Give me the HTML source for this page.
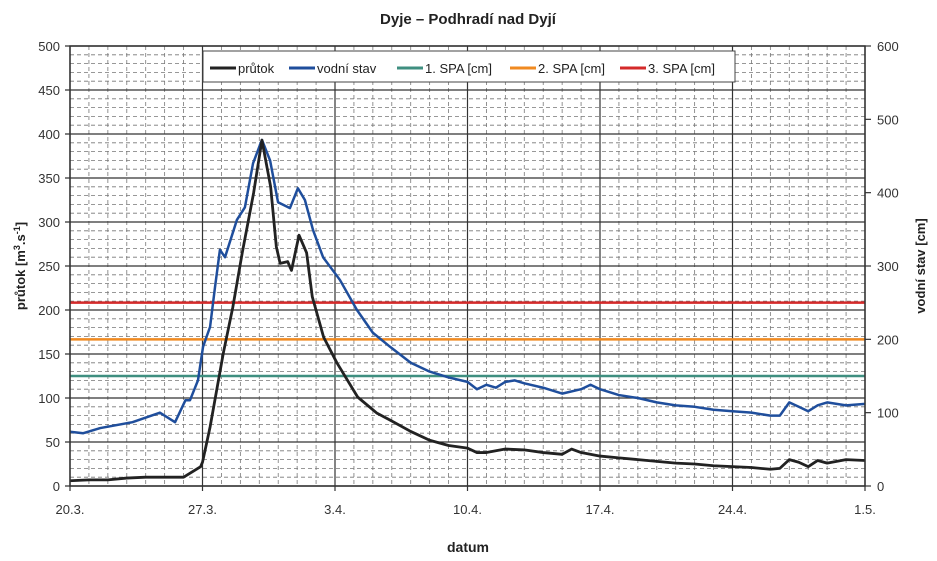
<!DOCTYPE html>
<html><head><meta charset="utf-8"><style>
body{margin:0;background:#fff;}
svg{display:block;font-family:"Liberation Sans",sans-serif;}
</style></head><body>
<svg id="chart" width="937" height="561">
<text x="468" y="24" text-anchor="middle" font-size="15" font-weight="bold" fill="#222">Dyje – Podhradí nad Dyjí</text>
<text x="468" y="552" text-anchor="middle" font-size="14" font-weight="bold" fill="#222">datum</text>
<text transform="translate(25,266) rotate(-90)" text-anchor="middle" font-size="13" font-weight="bold" fill="#222">průtok [m<tspan dy="-5" font-size="9">3</tspan><tspan dy="5">.s</tspan><tspan dy="-5" font-size="9">-1</tspan><tspan dy="5">]</tspan></text>
<text transform="translate(925,266) rotate(-90)" text-anchor="middle" font-size="13" font-weight="bold" fill="#222">vodní stav [cm]</text>
<g id="grid"></g><g id="series"></g><g id="axes"></g>
<g>
<rect x="203" y="51" width="532" height="31" fill="#fff" stroke="#444" stroke-width="1"/>
<line x1="210" y1="68" x2="236" y2="68" stroke="#222" stroke-width="3"/><text x="238" y="73" font-size="13" fill="#222">průtok</text>
<line x1="289" y1="68" x2="315" y2="68" stroke="#1f4e9c" stroke-width="3"/><text x="317" y="73" font-size="13" fill="#222">vodní stav</text>
<line x1="397" y1="68" x2="423" y2="68" stroke="#3f8f80" stroke-width="3"/><text x="425" y="73" font-size="13" fill="#222">1. SPA [cm]</text>
<line x1="510" y1="68" x2="536" y2="68" stroke="#f08a20" stroke-width="3"/><text x="538" y="73" font-size="13" fill="#222">2. SPA [cm]</text>
<line x1="620" y1="68" x2="646" y2="68" stroke="#d42a2a" stroke-width="3"/><text x="648" y="73" font-size="13" fill="#222">3. SPA [cm]</text>
</g>
</svg>
<script>
const xTickLabels=["20.3.","27.3.","3.4.","10.4.","17.4.","24.4.","1.5."];
const yLeftTicks=[0,50,100,150,200,250,300,350,400,450,500];
const yRightTicks=[0,100,200,300,400,500,600];
const flowDays=[0,1,2,3,4,5,6,6.3,6.9,7.0,7.4,8.1,8.6,9.1,9.7,10.14,10.6,10.9,11.1,11.5,11.7,12.1,12.5,12.8,13.4,14.1,15.2,16.2,16.9,18,19,20,21,21.5,22,22.5,23,24,25,26,26.5,27,28,29,30,31,32,33,34,35,36,37,37.5,38,38.5,39,39.5,40,41,42];
const flowValues=[6,7,7,9,10,10,10,14,22,27,67,151,203,265,333,393,340,272,253,255,245,285,265,215,169,140,101,83,75,62,52,46,43,38,38,40,42,41,38,36,42,38,34,32,30,28,26,25,23,22,21,19,20,30,27,22,29,26,30,29];
const levelDays=[0,0.7,1.6,3.3,4.75,5.55,6.1,6.34,6.76,7.03,7.4,7.66,7.92,8.19,8.82,9.24,9.67,10.14,10.57,10.99,11.62,12.04,12.41,12.84,13.37,14.26,15.16,16.0,16.9,18,19,20,21,21.5,22,22.5,23,23.5,24,25,26,27,27.5,28,29,30,31,32,33,34,35,36,37,37.5,38,38.5,39,39.5,40,41,42];
const levelValues=[74,72,79,87,100,87,117,117,144,190,217,271,322,312,363,380,440,472,444,387,379,406,390,349,312,281,240,209,190,168,156,148,142,132,138,134,142,144,140,134,126,132,138,132,124,120,114,110,108,104,102,100,96,96,114,108,102,110,114,110,112];
const spaNames=["spa-1-line","spa-2-line","spa-3-line"];
const spaValues=[150,200,250];
const spaColors=["#3f8f80","#f08a20","#d42a2a"];

const L=70,R=865,T=46,B=486,NS="http://www.w3.org/2000/svg";
const xs=d=>L+d*(R-L)/42;
const yl=v=>B-v*(B-T)/500;
const yr=v=>B-v*(B-T)/600;
function mk(tag,attrs,parent){const e=document.createElementNS(NS,tag);for(const k in attrs)e.setAttribute(k,attrs[k]);parent.appendChild(e);return e;}
const grid=document.getElementById('grid'),series=document.getElementById('series'),axes=document.getElementById('axes');
for(let d=1;d<42;d++){if(d%7===0)continue;const l=mk('line',{x1:xs(d),x2:xs(d),y1:T,y2:B,stroke:'#777','stroke-width':0.8,'stroke-dasharray':'4,3'},grid);

}
for(let v=10;v<500;v+=10){if(v%50===0)continue;const l=mk('line',{x1:L,x2:R,y1:yl(v),y2:yl(v),stroke:'#777','stroke-width':0.8,'stroke-dasharray':'4,3'},grid);

}
yLeftTicks.forEach(v=>{const l=mk('line',{x1:L-5,x2:R,y1:yl(v),y2:yl(v),stroke:'#333','stroke-width':1.2},grid);


const t=mk('text',{x:L-10,y:yl(v)+5,'text-anchor':'end','font-size':13,fill:'#333'},axes);t.textContent=v;

});
xTickLabels.forEach((s,i)=>{const x=xs(i*7);const l=mk('line',{x1:x,x2:x,y1:T,y2:B+5,stroke:'#333','stroke-width':1.2},grid);


const t=mk('text',{x:x,y:B+28,'text-anchor':'middle','font-size':13,fill:'#333'},axes);t.textContent=s;

});
yRightTicks.forEach(v=>{mk('line',{x1:R,x2:R+6,y1:yr(v),y2:yr(v),stroke:'#333','stroke-width':1.2},axes);
const t=mk('text',{x:R+12,y:yr(v)+5,'font-size':13,fill:'#333'},axes);t.textContent=v;

});
const frame=mk('rect',{x:L,y:T,width:R-L,height:B-T,fill:'none',stroke:'#333','stroke-width':1.5},axes);


spaValues.forEach((v,i)=>{const l=mk('line',{x1:L,x2:R,y1:yr(v),y2:yr(v),stroke:spaColors[i],'stroke-width':2.5},series);

});
const pl=mk('polyline',{points:levelDays.map((d,i)=>xs(d)+','+yr(levelValues[i])).join(' '),fill:'none',stroke:'#1f4e9c','stroke-width':2.5,'stroke-linejoin':'round'},series);


const pf=mk('polyline',{points:flowDays.map((d,i)=>xs(d)+','+yl(flowValues[i])).join(' '),fill:'none',stroke:'#222','stroke-width':2.8,'stroke-linejoin':'round'},series);


</script>
</body></html>
